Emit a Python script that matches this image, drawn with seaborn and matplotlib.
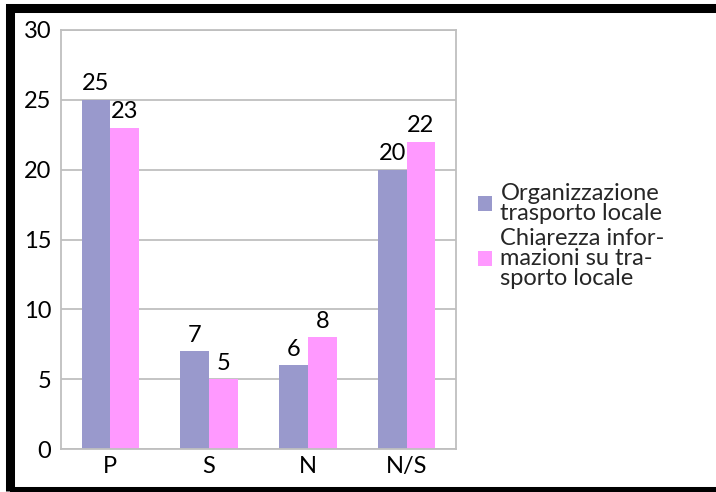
import matplotlib
matplotlib.use("Agg")
import matplotlib.pyplot as plt
from matplotlib.patches import Rectangle
import seaborn as sns
import pandas as pd

categories = ["P", "S", "N", "N/S"]
series_names = ["Organizzazione\ntrasporto locale",
                "Chiarezza infor-\nmazioni su tra-\nsporto locale"]
organizzazione = [25, 7, 6, 20]
chiarezza = [23, 5, 8, 22]
y_ticks = [0, 5, 10, 15, 20, 25, 30]
colors = ["#9999CC", "#FF99FF"]

df = pd.DataFrame({
    "cat": categories * 2,
    "val": organizzazione + chiarezza,
    "serie": [series_names[0]] * 4 + [series_names[1]] * 4,
})

sns.set_theme(style="white")
plt.rcParams["font.family"] = ["Lato", "DejaVu Sans"]

fig = plt.figure(figsize=(7.16, 4.92), dpi=100)
ax = fig.add_axes([61 / 716, 43 / 492, 395 / 716, 419 / 492])

sns.barplot(data=df, x="cat", y="val", hue="serie", order=categories,
            hue_order=series_names, palette=colors, width=0.58,
            saturation=1, ax=ax, legend=False, linewidth=0)

for cont in ax.containers:
    ax.bar_label(cont, padding=4, fontsize=17, color="black")

ax.set_ylim(0, 30)
ax.set_yticks(y_ticks)
ax.set_xlim(-0.5, 3.5)
ax.set_xlabel("")
ax.set_ylabel("")
ax.yaxis.grid(True, color="#BFBFBF", linewidth=1.3)
ax.set_axisbelow(True)
for sp in ax.spines.values():
    sp.set_visible(True)
    sp.set_color("#BFBFBF")
    sp.set_linewidth(1.3)
ax.tick_params(axis="both", length=0, labelsize=17, colors="black")
ax.tick_params(axis="y", pad=7)
ax.tick_params(axis="x", pad=5)

handles = [Rectangle((0, 0), 1, 1, color=c, linewidth=0) for c in colors]
leg = fig.legend(handles, series_names, loc="center left",
                 bbox_to_anchor=(478 / 716, (492 - 236) / 492), frameon=False,
                 fontsize=17, handlelength=0.6, handleheight=0.6,
                 handletextpad=0.35, labelspacing=0.15, borderaxespad=0,
                 borderpad=0)
for t in leg.get_texts():
    t.set_linespacing(0.95)

# heavy black frame around the figure
fig.add_artist(Rectangle((10 / 716, 1 / 492), 720 / 716, 483 / 492,
                         transform=fig.transFigure, fill=False,
                         edgecolor="black", linewidth=6.5, clip_on=False))

fig.savefig("out.png", dpi=100)
